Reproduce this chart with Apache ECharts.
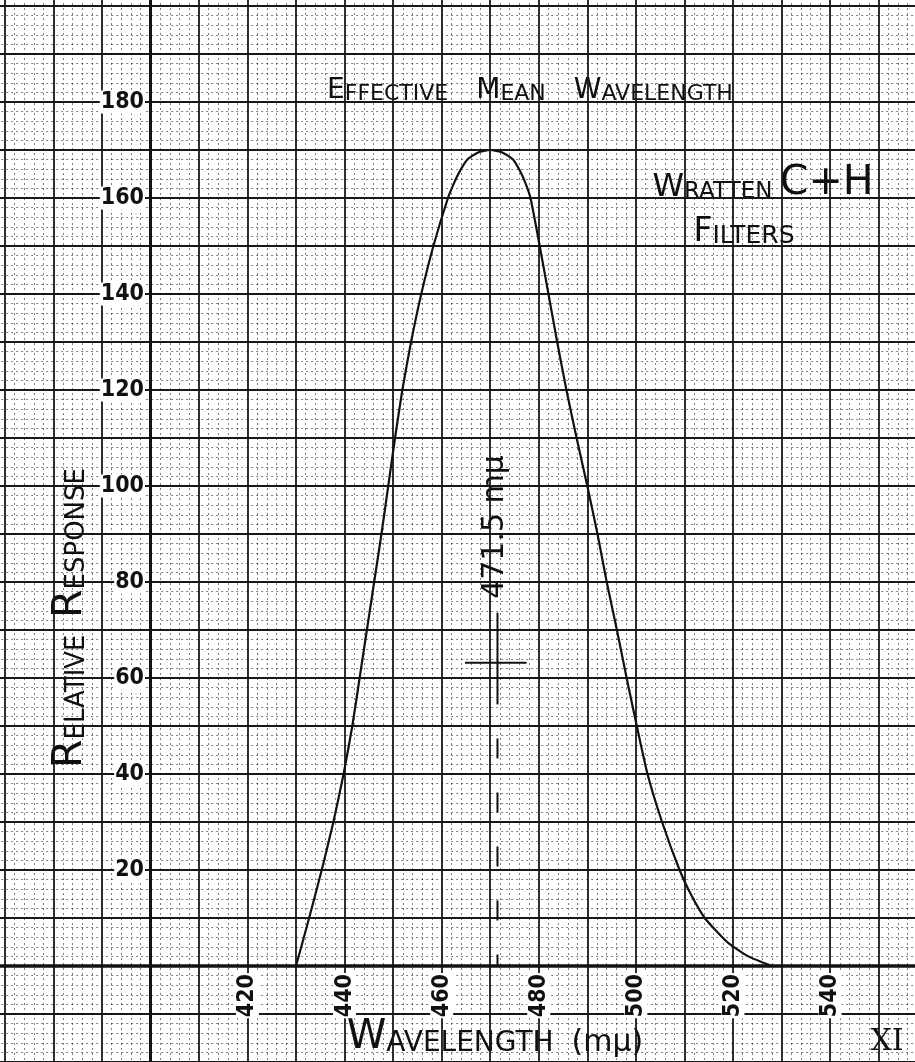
<!DOCTYPE html>
<html>
<head>
    <meta charset="UTF-8">
    <title>Effective Mean Wavelength</title>
    <script src="https://cdn.jsdelivr.net/npm/echarts@6/dist/echarts.min.js"></script>
    <style>
        html, body { margin: 0; padding: 0; background: #fff; }
        #chart { width: 915px; height: 1062px; }
    </style>
</head>
<body>
    <div id="chart"></div>
    <script>
        // curve (wavelength in m\u03bc, relative response)
        var wavelengths = [430, 432.7, 435.3, 437.7, 439.8, 441.6, 443.1, 444.6, 446.1, 447.6,
            449.0, 450.4, 451.9, 453.7, 455.8, 458.3, 461.3, 462.5, 463.7, 465.3, 467.5,
            470, 472.5, 474.7, 476.2, 477.3, 478.3, 480.2, 482.0, 483.8, 485.7, 487.8,
            490.0, 492.1, 494.0, 496.1, 498.1, 500.2, 502.4, 505.4, 509.0, 511.3, 514.2,
            518.8, 523.2, 528.0];
        var response = [0, 10, 20, 30, 40, 50, 60, 70, 80, 90,
            100, 110, 120, 130, 140, 150, 160, 163, 165.5, 168, 169.5,
            170, 169.5, 168, 165.5, 163, 160, 150, 140, 130, 120, 110,
            100, 90, 80, 70, 60, 50, 40, 30, 20, 15, 10,
            5, 2, 0];

        // effective mean wavelength marker
        var meanWave = 471.5;
        var meanDashed = [0, 54.5];
        var meanSolid = [54.5, 73.6];
        var crossWave = [464.8, 477.5];
        var crossLevel = 63.2;

        var xTickLabels = [420, 440, 460, 480, 500, 520, 540];
        var yTickLabels = [20, 40, 60, 80, 100, 120, 140, 160, 180];

        var ink = '#111';
        var chart = echarts.init(document.getElementById('chart'), null, {renderer: 'canvas'});

        var curve = [];
        for (var i = 0; i < wavelengths.length; i++) {
            curve.push([wavelengths[i], response[i]]);
        }

        var majorLine = {show: true, lineStyle: {color: '#181818', width: 1.8}};
        var minorLine = {show: true, lineStyle: {color: 'rgba(0,0,0,0.5)', width: 1, type: [2, 3]}};

        function centred(extra) {
            var s = {fill: ink, align: 'center', verticalAlign: 'middle',
                textAlign: 'center', textVerticalAlign: 'middle'};
            for (var k in extra) { s[k] = extra[k]; }
            return s;
        }

        var option = {
            backgroundColor: '#fff',
            animation: false,
            grid: {left: -43.85, right: -12.15, top: -42, bottom: 0, containLabel: false, outerBoundsMode: 'none'},
            xAxis: {
                type: 'value', min: 360, max: 560, interval: 10,
                position: 'bottom', offset: -96,
                axisLine: {onZero: false, lineStyle: {color: ink, width: 3.5}},
                axisTick: {show: false},
                axisLabel: {
                    rotate: 90, margin: 7, color: ink,
                    fontFamily: 'DejaVu Sans Condensed', fontWeight: 'bold', fontSize: 23,
                    backgroundColor: '#fff', padding: [0, 1],
                    formatter: function (v) { return xTickLabels.indexOf(v) >= 0 ? String(v) : ''; }
                },
                splitLine: majorLine,
                minorTick: {show: false, splitNumber: 5},
                minorSplitLine: minorLine
            },
            yAxis: {
                type: 'value', min: -20, max: 210, interval: 10,
                offset: -193.85,
                axisLine: {show: true, onZero: false, lineStyle: {color: ink, width: 3}},
                axisTick: {show: false},
                axisLabel: {
                    margin: 5, color: ink,
                    fontFamily: 'DejaVu Sans Condensed', fontWeight: 'bold', fontSize: 23,
                    backgroundColor: '#fff', padding: [0, 1],
                    formatter: function (v) { return yTickLabels.indexOf(v) >= 0 ? String(v) : ''; }
                },
                splitLine: majorLine,
                minorTick: {show: false, splitNumber: 5},
                minorSplitLine: minorLine
            },
            graphic: [
                {
                    type: 'text', x: 530, y: 91,
                    style: centred({
                        text: '{B|E}{s|FFECTIVE}    {B|M}{s|EAN}    {B|W}{s|AVELENGTH}',
                        rich: {
                            B: {fontSize: 28, fontFamily: 'DejaVu Sans', verticalAlign: 'bottom'},
                            s: {fontSize: 22, fontFamily: 'DejaVu Sans', verticalAlign: 'bottom'}
                        },
                        font: '22px DejaVu Sans'
                    })
                },
                {
                    type: 'text', x: 763, y: 183,
                    style: centred({
                        text: '{B|W}{s|RATTEN} {c|C+H}',
                        rich: {
                            B: {fontSize: 32, fontFamily: 'DejaVu Sans', verticalAlign: 'bottom'},
                            s: {fontSize: 23, fontFamily: 'DejaVu Sans', verticalAlign: 'bottom'},
                            c: {fontSize: 41, fontFamily: 'DejaVu Sans ExtraLight, DejaVu Sans', verticalAlign: 'bottom'}
                        },
                        font: '23px DejaVu Sans'
                    })
                },
                {
                    type: 'text', x: 744, y: 232,
                    style: centred({
                        text: '{B|F}{s|ILTERS}',
                        rich: {
                            B: {fontSize: 33, fontFamily: 'DejaVu Sans', verticalAlign: 'bottom'},
                            s: {fontSize: 25, fontFamily: 'DejaVu Sans', verticalAlign: 'bottom'}
                        },
                        font: '25px DejaVu Sans'
                    })
                },
                {
                    type: 'text', x: 70, y: 618, rotation: Math.PI / 2,
                    style: centred({
                        text: '{B|R}{s|ELATIVE}  {B|R}{s|ESPONSE}',
                        rich: {
                            B: {fontSize: 41, fontFamily: 'DejaVu Sans', verticalAlign: 'bottom'},
                            s: {fontSize: 26, fontFamily: 'DejaVu Sans', verticalAlign: 'bottom'}
                        },
                        font: '26px DejaVu Sans'
                    })
                },
                {
                    type: 'text', x: 495, y: 1038,
                    style: centred({
                        text: '{B|W}{s|AVELENGTH}  {p|(m\u03bc)}',
                        rich: {
                            B: {fontSize: 40, fontFamily: 'DejaVu Sans', verticalAlign: 'bottom'},
                            s: {fontSize: 28, fontFamily: 'DejaVu Sans', verticalAlign: 'bottom'},
                            p: {fontSize: 30, fontFamily: 'DejaVu Sans', verticalAlign: 'bottom'}
                        },
                        font: '28px DejaVu Sans'
                    })
                },
                {
                    type: 'text', x: 495, y: 527, rotation: Math.PI / 2,
                    style: centred({text: '471.5 m\u03bc', font: '30px DejaVu Sans'})
                },
                {
                    type: 'text', x: 887, y: 1042,
                    style: centred({text: 'XI', font: '30px DejaVu Serif'})
                }
            ],
            series: [
                {
                    name: 'response',
                    type: 'line',
                    data: curve,
                    showSymbol: false,
                    smooth: 0.2,
                    lineStyle: {color: ink, width: 2.2},
                    z: 5
                },
                {
                    type: 'line', showSymbol: false, silent: true,
                    data: [[meanWave, meanDashed[1]], [meanWave, meanDashed[0]]],
                    lineStyle: {color: ink, width: 2, type: [20, 34], dashOffset: 20},
                    z: 5
                },
                {
                    type: 'line', showSymbol: false, silent: true,
                    data: [[meanWave, meanSolid[0]], [meanWave, meanSolid[1]]],
                    lineStyle: {color: ink, width: 2},
                    z: 5
                },
                {
                    type: 'line', showSymbol: false, silent: true,
                    data: [[crossWave[0], crossLevel], [crossWave[1], crossLevel]],
                    lineStyle: {color: ink, width: 2},
                    z: 5
                }
            ]
        };

        chart.setOption(option);
    </script>
</body>
</html>
